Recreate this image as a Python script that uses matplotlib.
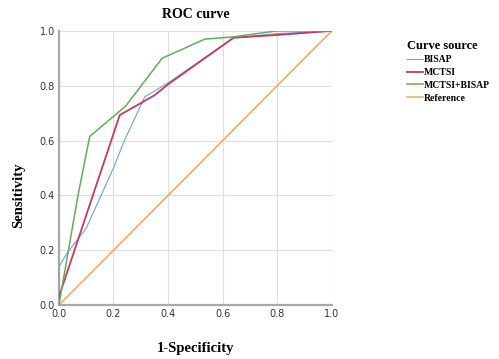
import numpy as np
import matplotlib.pyplot as plt

# ROC curve points
bisap_x = [0.0, 0.0, 0.03, 0.10, 0.15, 0.20, 0.24, 0.315, 0.40, 0.64, 0.80, 1.0]
bisap_y = [0.0, 0.14, 0.19, 0.28, 0.39, 0.50, 0.60, 0.76, 0.81, 0.975, 0.99, 1.0]

mctsi_x = [0.0, 0.0, 0.223, 0.35, 0.40, 0.64, 0.80, 1.0]
mctsi_y = [0.0, 0.03, 0.693, 0.765, 0.805, 0.975, 0.985, 1.0]

combo_x = [0.0, 0.07, 0.113, 0.245, 0.378, 0.535, 0.637, 0.80, 1.0]
combo_y = [0.0, 0.40, 0.615, 0.726, 0.90, 0.97, 0.978, 1.0, 1.0]

ref_x = [0.0, 1.0]
ref_y = [0.0, 1.0]

ticks = [0.0, 0.2, 0.4, 0.6, 0.8, 1.0]

fig = plt.figure(figsize=(4.99, 3.59), dpi=100)
ax = fig.add_axes([0.118, 0.150, 0.547, 0.764])

ax.plot(bisap_x, bisap_y, color='#6fa0d8', lw=0.8, label='BISAP', zorder=3)
ax.plot(mctsi_x, mctsi_y, color='#c23a63', lw=1.3, label='MCTSI', zorder=4)
ax.plot(combo_x, combo_y, color='#62ad57', lw=1.1, label='MCTSI+BISAP', zorder=5)
ax.plot(ref_x, ref_y, color='#f0a464', lw=1.1, label='Reference', zorder=2)

ax.set_xlim(0, 1)
ax.set_ylim(0, 1)
ax.set_xticks(ticks)
ax.set_yticks(ticks)
ax.set_xticklabels(['%.1f' % t for t in ticks])
ax.set_yticklabels(['%.1f' % t for t in ticks])
ax.tick_params(length=0, labelsize=7, colors='#333333', pad=3)
ax.grid(True, color='#e2dcdc', lw=0.8)
ax.set_axisbelow(True)

for s in ['top', 'right']:
    ax.spines[s].set_visible(False)
for s in ['left', 'bottom']:
    ax.spines[s].set_color('#a8a8a8')
    ax.spines[s].set_linewidth(1.6)

serif = {'family': 'Liberation Serif', 'weight': 'bold'}
ax.set_title('ROC curve', fontdict=serif, fontsize=10, pad=9)
ax.set_xlabel('1-Specificity', fontdict=serif, fontsize=10.5, labelpad=16)
ax.set_ylabel('Sensitivity', fontdict=serif, fontsize=10.5)
ax.yaxis.set_label_coords(-0.125, 0.40)

leg = fig.legend(loc='upper left', bbox_to_anchor=(0.808, 0.90), frameon=False,
                 title='Curve source', handlelength=1.6, handletextpad=0.15,
                 labelspacing=0.38, borderaxespad=0,
                 prop={'family': 'Liberation Serif', 'weight': 'bold', 'size': 7})
leg.get_title().set_fontproperties({'family': 'Liberation Serif', 'weight': 'bold', 'size': 9})
leg._legend_box.align = 'left'

fig.savefig('out.png', dpi=100)
